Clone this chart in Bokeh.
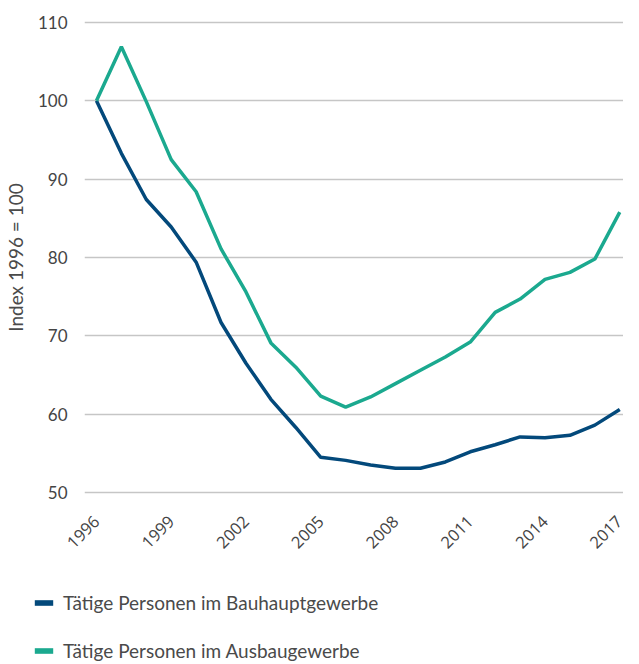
from bokeh.plotting import figure
from bokeh.layouts import column
from bokeh.models import Range1d, FixedTicker, Legend, LegendItem
from bokeh.embed import file_html
from bokeh.resources import INLINE

years = list(range(1996, 2018))
bauhaupt = [100, 93.3, 87.4, 83.9, 79.4, 71.7, 66.5, 61.9, 58.3, 54.5, 54.1, 53.5,
            53.1, 53.1, 53.9, 55.2, 56.1, 57.1, 57.0, 57.3, 58.6, 60.6]
ausbau = [100, 106.9, 99.9, 92.5, 88.4, 81.1, 75.6, 69.1, 66.0, 62.3, 60.9, 62.2,
          63.9, 65.6, 67.3, 69.2, 73.0, 74.7, 77.2, 78.1, 79.8, 85.8]
x_ticks = [1996, 1999, 2002, 2005, 2008, 2011, 2014, 2017]
y_ticks = [50, 60, 70, 80, 90, 100, 110]
labels = ["Tätige Personen im Bauhauptgewerbe", "Tätige Personen im Ausbaugewerbe"]

BLUE = "#03497b"
GREEN = "#1ba98f"

p = figure(width=623, height=570, output_backend="svg", toolbar_location=None,
           x_range=Range1d(1995.52, 2017.15), y_range=Range1d(49.49, 110.51),
           min_border_left=76, min_border_right=0, min_border_top=18, min_border_bottom=74)
p.outline_line_color = None
p.background_fill_color = "white"

p.xgrid.grid_line_color = None
p.ygrid.grid_line_color = "#c6c6c6"
p.ygrid.grid_line_width = 1.5
p.ygrid.ticker = FixedTicker(ticks=y_ticks)

p.yaxis.ticker = FixedTicker(ticks=y_ticks)
p.yaxis.axis_line_color = None
p.yaxis.major_tick_line_color = None
p.yaxis.minor_tick_line_color = None
p.yaxis.major_tick_out = 0
p.yaxis.major_label_standoff = 17
p.yaxis.major_label_text_font = "Lato"
p.yaxis.major_label_text_font_size = "17px"
p.yaxis.major_label_text_color = "#444444"
p.yaxis.axis_label = "Index 1996 = 100"
p.yaxis.axis_label_text_font = "Lato"
p.yaxis.axis_label_text_font_style = "normal"
p.yaxis.axis_label_text_font_size = "19px"
p.yaxis.axis_label_text_color = "#4a4a4a"
p.yaxis.axis_label_standoff = 8

p.xaxis.ticker = FixedTicker(ticks=x_ticks)
p.xaxis.axis_line_color = None
p.xaxis.major_tick_line_color = None
p.xaxis.minor_tick_line_color = None
p.xaxis.major_tick_out = 0
p.xaxis.major_label_orientation = 0.785398
p.xaxis.major_label_standoff = 22
p.xaxis.major_label_text_font = "Open Sans"
p.xaxis.major_label_text_font_size = "16.5px"
p.xaxis.major_label_text_color = "#444444"

p.line(years, bauhaupt, line_color=BLUE, line_width=3.5)
p.line(years, ausbau, line_color=GREEN, line_width=3.5)

# legend in its own strip below the chart (its own ranges keep the
# swatch renderers out of view; only the legend is seen)
lf = figure(width=623, height=94, output_backend="svg", toolbar_location=None,
            x_range=Range1d(0, 1), y_range=Range1d(0, 1),
            x_axis_type=None, y_axis_type=None, min_border=0)
lf.frame_align = False
lf.outline_line_color = None
lf.grid.grid_line_color = None
lb = lf.rect(x=years, y=bauhaupt, width=1, height=1, fill_color=BLUE, line_color=None)
lg = lf.rect(x=years, y=ausbau, width=1, height=1, fill_color=GREEN, line_color=None)

legend = Legend(items=[LegendItem(label=labels[0], renderers=[lb]),
                       LegendItem(label=labels[1], renderers=[lg])],
                location=(32, 2), orientation="vertical",
                border_line_color=None, background_fill_alpha=0,
                label_text_font="Lato", label_text_font_size="19px",
                label_text_color="#4a4a4a", glyph_width=23, glyph_height=7,
                label_height=20, spacing=25, padding=0, margin=0,
                label_standoff=8)
lf.add_layout(legend, "center")

open("out.html", "w").write(file_html(column(p, lf, spacing=0), INLINE))
